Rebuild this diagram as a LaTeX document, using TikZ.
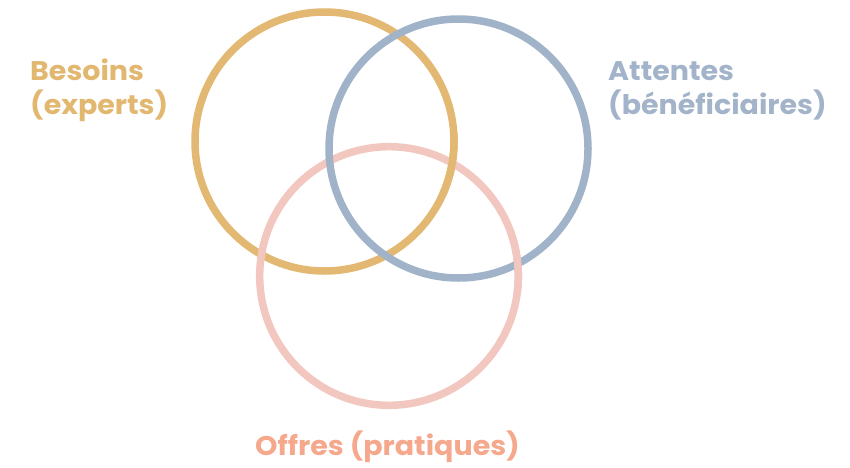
\documentclass[tikz,border=0pt]{standalone}
\usepackage{fontspec}
\setmainfont{Poppins}
\definecolor{goldc}{HTML}{E2B872}
\definecolor{bluec}{HTML}{A0B3C9}
\definecolor{pinkc}{HTML}{F2C7C0}
\definecolor{goldt}{HTML}{E2B770}
\definecolor{bluet}{HTML}{A3B4CA}
\definecolor{offt}{HTML}{F5A88C}
\tikzset{
  ring/.style={line width=7.5pt},
  lbl/.style={inner sep=0pt, anchor=base west, xscale=1.055, transform shape, font=\fontsize{27}{34}\selectfont\bfseries}
}
\begin{document}
\begin{tikzpicture}[x=1pt,y=1pt]
\useasboundingbox (0,0) rectangle (850,467);
% centres (y = 467 - pixel y)
\coordinate (G) at (324.5,325.5);
\coordinate (B) at (458.5,318.5);
\coordinate (P) at (389,191);
\draw[ring,goldc] (G) circle[radius=129.5];
\draw[ring,pinkc] (P) circle[radius=129.3];
\draw[ring,bluec] (B) circle[radius=129.5];
% interlacing fixes
\draw[ring,pinkc] ([shift={(-8:129.3)}]P) arc[start angle=-8,end angle=20,radius=129.3];
\draw[ring,goldc] ([shift={(-24:129.5)}]G) arc[start angle=-24,end angle=4,radius=129.5];
% labels
\node[lbl,text=goldt] (bes) at (30,387) {Besoins};
\node[lbl,text=goldt] (exp) at (30,353) {(experts)};
\node[lbl,text=bluet] (att) at (608,387) {Attentes};
\node[lbl,text=bluet] (ben) at (608,353) {(bénéficiaires)};
\node[lbl,text=offt] (off) at (255,12) {Offres (pratiques)};
\end{tikzpicture}
\end{document}
